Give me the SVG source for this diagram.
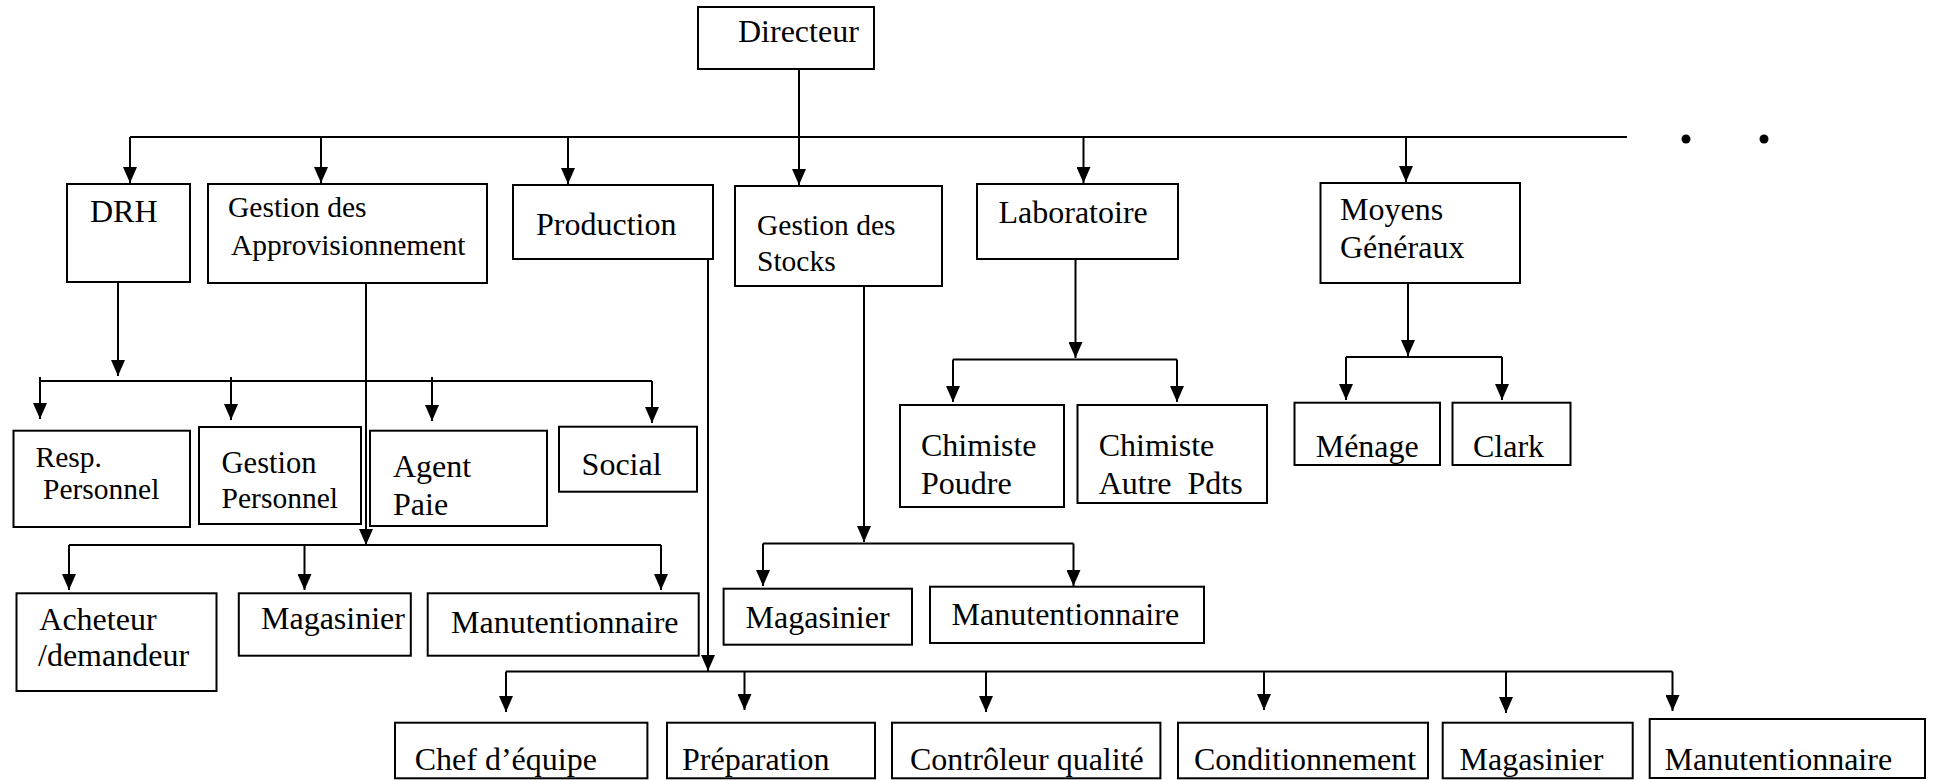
<svg xmlns="http://www.w3.org/2000/svg" width="1933" height="780" viewBox="0 0 1933 780">
<style>
rect.b{fill:#fff;stroke:#000;stroke-width:2}
text{font-family:"Liberation Serif","Times New Roman",serif;font-size:32px;fill:#000}
text.s{font-size:29.5px}
.c line{stroke:#000;stroke-width:2}
.c line.a{marker-end:url(#ah)}
</style>
<defs>
<marker id="ah" viewBox="0 0 16 14" refX="16" refY="7" markerWidth="16" markerHeight="14" markerUnits="userSpaceOnUse" orient="auto">
<path d="M0,0 L16,7 L0,14 z" fill="#000"/>
</marker>
</defs>
<g id="connectors" class="c">
<line x1="799" y1="69" x2="799" y2="137"/>
<line x1="130" y1="137" x2="1627" y2="137"/>
<line class="a" x1="130" y1="137" x2="130" y2="183"/>
<line class="a" x1="321" y1="137" x2="321" y2="183"/>
<line class="a" x1="568" y1="137" x2="568" y2="184"/>
<line class="a" x1="799" y1="137" x2="799" y2="185"/>
<line class="a" x1="1083.5" y1="137" x2="1083.5" y2="183"/>
<line class="a" x1="1406" y1="137" x2="1406" y2="182"/>
<line class="a" x1="118" y1="282" x2="118" y2="376"/>
<line x1="40" y1="381" x2="652" y2="381"/>
<line class="a" x1="40" y1="377" x2="40" y2="419"/>
<line class="a" x1="231" y1="377" x2="231" y2="420"/>
<line class="a" x1="432" y1="377" x2="432" y2="421"/>
<line class="a" x1="652" y1="381" x2="652" y2="423"/>
<line class="a" x1="366" y1="283" x2="366" y2="545"/>
<line x1="69" y1="545" x2="661" y2="545"/>
<line class="a" x1="69" y1="545" x2="69" y2="590"/>
<line class="a" x1="304.5" y1="545" x2="304.5" y2="590"/>
<line class="a" x1="661" y1="545" x2="661" y2="590"/>
<line class="a" x1="708" y1="259" x2="708" y2="671"/>
<line x1="506" y1="671.5" x2="1672.5" y2="671.5"/>
<line class="a" x1="506" y1="671.5" x2="506" y2="712"/>
<line class="a" x1="744.5" y1="671.5" x2="744.5" y2="710"/>
<line class="a" x1="986" y1="671.5" x2="986" y2="712"/>
<line class="a" x1="1264" y1="671.5" x2="1264" y2="710"/>
<line class="a" x1="1506" y1="671.5" x2="1506" y2="713"/>
<line class="a" x1="1672.5" y1="671.5" x2="1672.5" y2="711"/>
<line class="a" x1="864" y1="286" x2="864" y2="542"/>
<line x1="763" y1="543.5" x2="1073.5" y2="543.5"/>
<line class="a" x1="763" y1="543.5" x2="763" y2="586"/>
<line class="a" x1="1073.5" y1="543.5" x2="1073.5" y2="586"/>
<line class="a" x1="1075.5" y1="259" x2="1075.5" y2="358"/>
<line x1="953" y1="359.5" x2="1177" y2="359.5"/>
<line class="a" x1="953" y1="359.5" x2="953" y2="402"/>
<line class="a" x1="1177" y1="359.5" x2="1177" y2="402"/>
<line class="a" x1="1408" y1="283" x2="1408" y2="356"/>
<line x1="1346" y1="357" x2="1502" y2="357"/>
<line class="a" x1="1346" y1="357" x2="1346" y2="400"/>
<line class="a" x1="1502" y1="357" x2="1502" y2="400"/>
</g>
<g id="dots">
<circle cx="1686" cy="139" r="4.5" fill="#000"/>
<circle cx="1764" cy="139" r="4.5" fill="#000"/>
</g>
<g id="directeur"><rect class="b" x="698" y="7" width="176" height="62"/><text x="738" y="42">Directeur</text></g>
<g id="drh"><rect class="b" x="67" y="184" width="123" height="98"/><text x="90" y="222">DRH</text></g>
<g id="appro"><rect class="b" x="208" y="184" width="279" height="99"/><text class="s" x="228" y="217">Gestion des</text><text class="s" x="231" y="255">Approvisionnement</text></g>
<g id="production"><rect class="b" x="513" y="185" width="200" height="74"/><text x="536" y="235">Production</text></g>
<g id="stocks"><rect class="b" x="735" y="186" width="207" height="100"/><text class="s" x="757" y="235">Gestion des</text><text class="s" x="757" y="271">Stocks</text></g>
<g id="laboratoire"><rect class="b" x="977" y="184" width="201" height="75"/><text x="998.5" y="223">Laboratoire</text></g>
<g id="moyens"><rect class="b" x="1320.5" y="183" width="199.5" height="100"/><text x="1340" y="220">Moyens</text><text x="1340" y="258">Généraux</text></g>
<g id="resp-personnel"><rect class="b" x="13.5" y="430.7" width="176.5" height="96.3"/><text class="s" x="35.5" y="467">Resp.</text><text class="s" x="43" y="499">Personnel</text></g>
<g id="gestion-personnel"><rect class="b" x="199" y="427" width="162" height="97"/><text x="221.6" y="473" style="font-size:30.5px">Gestion</text><text class="s" x="221.6" y="508">Personnel</text></g>
<g id="agent-paie"><rect class="b" x="370" y="430.7" width="177" height="95.3"/><text x="393" y="477">Agent</text><text x="393" y="515">Paie</text></g>
<g id="social"><rect class="b" x="559" y="426.7" width="138" height="65"/><text x="581.6" y="475">Social</text></g>
<g id="chimiste-poudre"><rect class="b" x="900" y="405" width="164" height="102"/><text x="921" y="456">Chimiste</text><text x="921" y="494">Poudre</text></g>
<g id="chimiste-autre"><rect class="b" x="1077.5" y="405" width="189.5" height="98"/><text x="1098.7" y="456">Chimiste</text><text x="1098.7" y="494" xml:space="preserve">Autre  Pdts</text></g>
<g id="menage"><rect class="b" x="1294.5" y="402.7" width="145.5" height="62.3"/><text x="1315.7" y="457">Ménage</text></g>
<g id="clark"><rect class="b" x="1452.5" y="402.7" width="118" height="62.3"/><text x="1473" y="457">Clark</text></g>
<g id="acheteur"><rect class="b" x="16.5" y="593.3" width="200" height="97.7"/><text x="39.3" y="630">Acheteur</text><text x="38" y="666">/demandeur</text></g>
<g id="magasinier-appro"><rect class="b" x="238.8" y="593.3" width="172" height="62.4"/><text x="261" y="629">Magasinier</text></g>
<g id="manut-appro"><rect class="b" x="427.7" y="593.3" width="271" height="62.4"/><text x="451" y="633">Manutentionnaire</text></g>
<g id="magasinier-stocks"><rect class="b" x="723.6" y="588.7" width="188.4" height="56"/><text x="745.6" y="628">Magasinier</text></g>
<g id="manut-stocks"><rect class="b" x="930" y="586.7" width="274" height="56.3"/><text x="951.6" y="625">Manutentionnaire</text></g>
<g id="chef-equipe"><rect class="b" x="395" y="722.7" width="252.4" height="55.6"/><text x="414.7" y="770">Chef d’équipe</text></g>
<g id="preparation"><rect class="b" x="667" y="722.7" width="208" height="55.6"/><text x="682" y="770">Préparation</text></g>
<g id="controleur"><rect class="b" x="892" y="722.7" width="268.4" height="55.6"/><text x="910" y="770">Contrôleur qualité</text></g>
<g id="conditionnement"><rect class="b" x="1178" y="722.7" width="250" height="55.6"/><text x="1194" y="770">Conditionnement</text></g>
<g id="magasinier-prod"><rect class="b" x="1442.7" y="722.7" width="190" height="55.6"/><text x="1459.5" y="770">Magasinier</text></g>
<g id="manut-prod"><rect class="b" x="1649.7" y="719" width="275.3" height="59"/><text x="1664.6" y="770">Manutentionnaire</text></g>
</svg>
